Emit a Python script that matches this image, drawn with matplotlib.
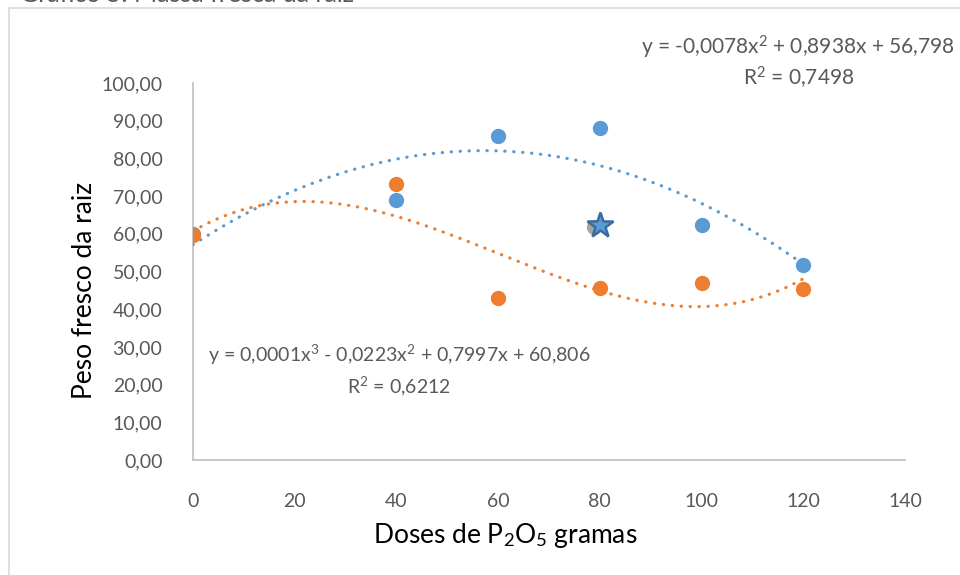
import matplotlib.pyplot as plt
import numpy as np
from matplotlib.patches import Rectangle
from matplotlib.ticker import FuncFormatter

plt.rcParams['font.family'] = ['Lato', 'DejaVu Sans']
plt.rcParams['mathtext.fontset'] = 'custom'
plt.rcParams['mathtext.rm'] = 'Lato'
plt.rcParams['mathtext.it'] = 'Lato:italic'

# doses de P2O5 (g)
doses = [0, 40, 60, 80, 100, 120]
# peso fresco da raiz, duas series
blue_vals = [60.0, 69.0, 85.9, 88.1, 62.3, 51.7]
orange_vals = [59.6, 73.2, 43.0, 45.7, 46.9, 45.4]
# ponto extra (cinza) e estrela
gray_x = [78.8]
gray_y = [61.8]
star_x = [80]
star_y = [62.3]

eq_blue = 'y = -0,0078x$^2$ + 0,8938x + 56,798\nR$^2$ = 0,7498'
eq_orange = 'y = 0,0001x$^3$ - 0,0223x$^2$ + 0,7997x + 60,806\nR$^2$ = 0,6212'

BLUE = '#5b9bd5'
ORANGE = '#ed7d31'
TXT = '#595959'
GRID = '#bfbfbf'

fig = plt.figure(figsize=(9.6, 5.75), dpi=100)
ax = fig.add_axes([193 / 960, 1 - 460 / 575, 712 / 960, 377 / 575])

# chart border (cut by image edges)
fig.patches.append(Rectangle((9 / 960, -0.1), 1.2, 1 - 8 / 575 + 0.1,
                             transform=fig.transFigure, fill=False,
                             edgecolor='#d9d9d9', lw=1.2))
# title mostly outside the picture, as in the source image
fig.text(20 / 960, 1 - 1.5 / 575, 'Gráfico 5: Massa fresca da raiz',
         fontsize=18, color=TXT, va='baseline', ha='left')

xs = np.linspace(0, 120, 300)
cb = np.polyfit(doses, blue_vals, 2)
co = np.polyfit(doses, orange_vals, 3)

ax.plot(doses, blue_vals, 'o', color=BLUE, ms=10, zorder=3)
ax.plot(xs, np.polyval(cb, xs), color=BLUE, lw=2.3,
        linestyle=(0, (0.1, 2.7)), dash_capstyle='round', zorder=4)
ax.plot(doses, orange_vals, 'o', color=ORANGE, ms=10, zorder=5)
ax.plot(xs, np.polyval(co, xs), color=ORANGE, lw=2.3,
        linestyle=(0, (0.1, 2.7)), dash_capstyle='round', zorder=6)
ax.plot(gray_x, gray_y, 'o', color='#a5a5a5', ms=10, zorder=7)
ax.plot(star_x, star_y, '*', color=BLUE, mec='#3a6c9f', mew=1.8,
        ms=19, zorder=8)

ax.set_xlim(0, 140)
ax.set_ylim(0, 100)
ax.set_xticks(range(0, 141, 20))
ax.set_yticks(range(0, 101, 10))
ax.yaxis.set_major_formatter(FuncFormatter(lambda v, p: f'{v:.2f}'.replace('.', ',')))
ax.tick_params(length=0, labelsize=14, labelcolor=TXT)
ax.tick_params(axis='x', pad=24)
ax.tick_params(axis='y', pad=22)
for s in ['top', 'right']:
    ax.spines[s].set_visible(False)
for s in ['left', 'bottom']:
    ax.spines[s].set_color(GRID)
    ax.spines[s].set_linewidth(1.2)

fig.text(85 / 960, 1 - 290 / 575, 'Peso fresco da raiz', rotation=90,
         fontsize=19, color='black', ha='center', va='center')
fig.text(505 / 960, 1 - 535 / 575, 'Doses de P$_2$O$_5$ gramas',
         fontsize=19, color='black', ha='center', va='center')

fig.text(955 / 960, 1 - 62 / 575, eq_blue, fontsize=15, color=TXT,
         ha='right', va='center', multialignment='center', linespacing=1.2)
fig.text(399 / 960, 1 - 370 / 575, eq_orange, fontsize=14, color=TXT,
         ha='center', va='center', multialignment='center', linespacing=1.4)

fig.savefig('out.png', dpi=100)
